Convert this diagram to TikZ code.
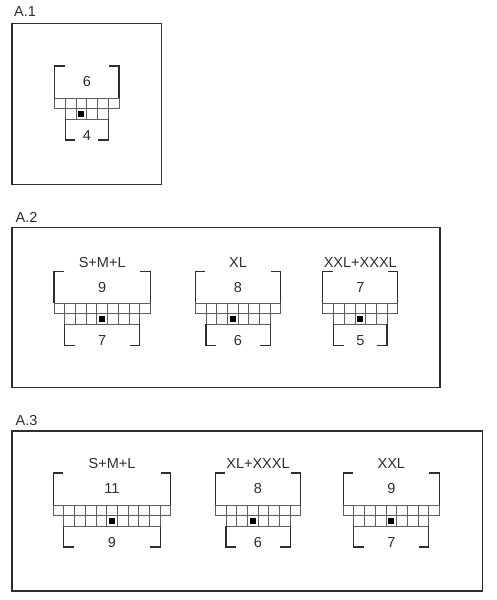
\documentclass[tikz,border=0pt]{standalone}
\usepackage{fontspec}
\setmainfont{Liberation Sans}
\usepackage{tikz}
\usetikzlibrary{positioning}

\definecolor{inkgray}{HTML}{2E2E2E}
\definecolor{gridgray}{HTML}{5E5E5E}

\def\cw{10.7}
\def\ch{10.5}

% one chart: name, centre x, top of grid, top cells, bottom cells, dot cell, size label
\newcommand{\sizechart}[7]{
  \begin{scope}[shift={(#2,#3)}]
    \foreach \i in {1,...,#4}
      \draw[cell] ({(\i-1-#4/2)*\cw},0) rectangle ++(\cw,\ch);
    \foreach \i in {1,...,#5}
      \draw[cell] ({(\i-1-#5/2)*\cw},\ch) rectangle ++(\cw,\ch);
    \node[dot] (#1dot) at ({(#6-0.5-#5/2)*\cw},{1.5*\ch}) {};
    % brackets
    \draw[brk] ({-#4*\cw/2+10},-32) -| ({-#4*\cw/2},0);
    \draw[brk] ({#4*\cw/2-10},-32) -| ({#4*\cw/2},0);
    \draw[brk] ({-#5*\cw/2+10},{2*\ch+21}) -| ({-#5*\cw/2},{2*\ch});
    \draw[brk] ({#5*\cw/2-10},{2*\ch+21}) -| ({#5*\cw/2},{2*\ch});
    \node[num] (#1top) at (0,-16) {#4};
    \node[num] (#1bot) at (0,{2*\ch+16.5}) {#5};
    \node[num] (#1lab) at (0,-41) {#7};
  \end{scope}
}

\begin{document}
\begin{tikzpicture}[x=1pt,y=-1pt,
  frame/.style={draw=inkgray,line width=1.4pt},
  cell/.style={draw=gridgray,line width=0.8pt},
  brk/.style={draw=inkgray,line width=1.2pt},
  dot/.style={fill=black,minimum size=6pt,inner sep=0pt},
  num/.style={text=inkgray,font=\fontsize{14.5}{16}\selectfont,inner sep=0pt},
  title/.style={num,anchor=west}]

\useasboundingbox (0,0) rectangle (497,600);

% Frames and titles
\node[title] (t1) at (14,12) {A.1};
\draw[frame] (12,23.3) rectangle (161.7,184.3);
\node[title] (t2) at (15.5,217.7) {A.2};
\draw[frame] (12,227.3) rectangle (440,387.3);
\node[title] (t3) at (15.5,420.7) {A.3};
\draw[frame] (12,431) rectangle (482.3,591);

% Charts
\sizechart{a}{86.8}{98}{6}{4}{2}{}
\sizechart{b}{102.2}{303.3}{9}{7}{4}{S+M+L}
\sizechart{c}{238}{303.3}{8}{6}{3}{XL}
\sizechart{d}{360.3}{303.3}{7}{5}{3}{XXL+XXXL}
\sizechart{e}{112}{505}{11}{9}{5}{S+M+L}
\sizechart{f}{258}{505}{8}{6}{3}{XL+XXXL}
\sizechart{g}{391.3}{505}{9}{7}{4}{XXL}
\end{tikzpicture}
\end{document}
